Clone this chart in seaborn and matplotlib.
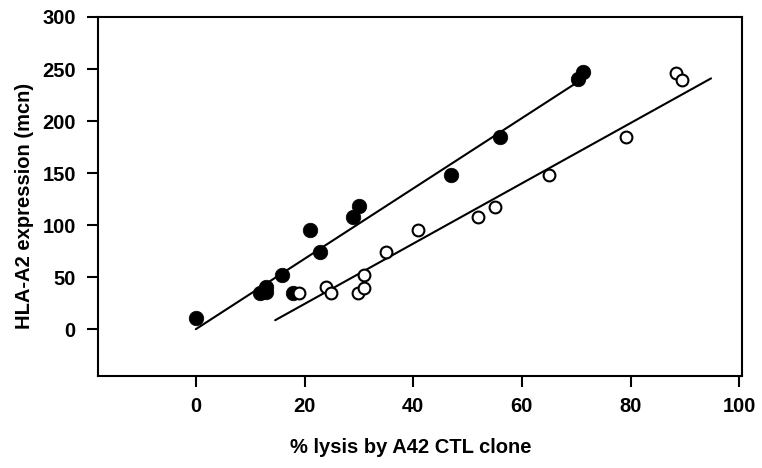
import matplotlib
matplotlib.use("Agg")
import matplotlib.pyplot as plt
import seaborn as sns
import pandas as pd

# Filled circles
filled_x = [0.1, 11.8, 13.0, 13.0, 15.9, 17.9, 21.0, 22.9, 28.9, 30.0, 47.0, 56.0, 70.3, 71.2]
filled_y = [10.3, 34.3, 36.0, 40.7, 51.9, 34.9, 95.0, 74.0, 108.0, 118.0, 148.0, 185.0, 240.0, 247.0]

# Open circles
open_x = [19.0, 23.9, 24.9, 29.8, 30.9, 30.9, 34.9, 40.9, 52.0, 55.0, 65.0, 79.2, 88.4, 89.5]
open_y = [34.3, 41.0, 35.0, 35.0, 40.0, 52.0, 74.0, 95.0, 108.0, 117.6, 148.0, 185.0, 246.6, 239.0]

# Regression lines
filled_line_x = [0.0, 71.0]
filled_line_y = [0.0, 240.0]
open_line_x = [14.6, 94.8]
open_line_y = [8.6, 241.0]

x_ticks = [0, 20, 40, 60, 80, 100]
y_ticks = [0, 50, 100, 150, 200, 250, 300]

sns.set_style("ticks")
plt.rcParams["font.family"] = ["Liberation Sans", "DejaVu Sans"]
plt.rcParams["font.weight"] = "bold"
plt.rcParams["text.color"] = "black"
plt.rcParams["axes.labelcolor"] = "black"
plt.rcParams["xtick.color"] = "black"
plt.rcParams["ytick.color"] = "black"

fig = plt.figure(figsize=(7.62, 4.68), dpi=100)
ax = fig.add_axes([0.1286, 0.1966, 0.8452, 0.7671])

df_f = pd.DataFrame({"x": filled_x, "y": filled_y})
df_o = pd.DataFrame({"x": open_x, "y": open_y})

sns.lineplot(x=filled_line_x, y=filled_line_y, ax=ax, color="black", lw=1.5)
sns.lineplot(x=open_line_x, y=open_line_y, ax=ax, color="black", lw=1.5)

sns.scatterplot(data=df_f, x="x", y="y", ax=ax, s=110, color="black",
                edgecolor="black", linewidth=0.5, zorder=3)
sns.scatterplot(data=df_o, x="x", y="y", ax=ax, s=72, facecolor="white",
                edgecolor="black", linewidth=1.5, zorder=3)

ax.set_xlim(-18, 100.5)
ax.set_ylim(-45, 300)
ax.set_xticks(x_ticks)
ax.set_yticks(y_ticks)
ax.tick_params(axis="both", direction="out", length=8, width=1.5,
               labelsize=14.5, color="black", labelcolor="black")
ax.tick_params(axis="y", pad=8)
ax.tick_params(axis="x", pad=7)
for lab in ax.get_xticklabels() + ax.get_yticklabels():
    lab.set_fontweight("bold")

for sp in ax.spines.values():
    sp.set_visible(True)
    sp.set_linewidth(1.5)
    sp.set_color("black")

ax.set_xlabel("% lysis by A42 CTL clone", fontsize=14.5, fontweight="bold")
ax.set_ylabel("HLA-A2 expression (mcn)", fontsize=14.5, fontweight="bold")
ax.xaxis.set_label_coords(0.485, -0.173)
ax.yaxis.set_label_coords(-0.100, 0.474)

fig.savefig("out.png", dpi=100)
